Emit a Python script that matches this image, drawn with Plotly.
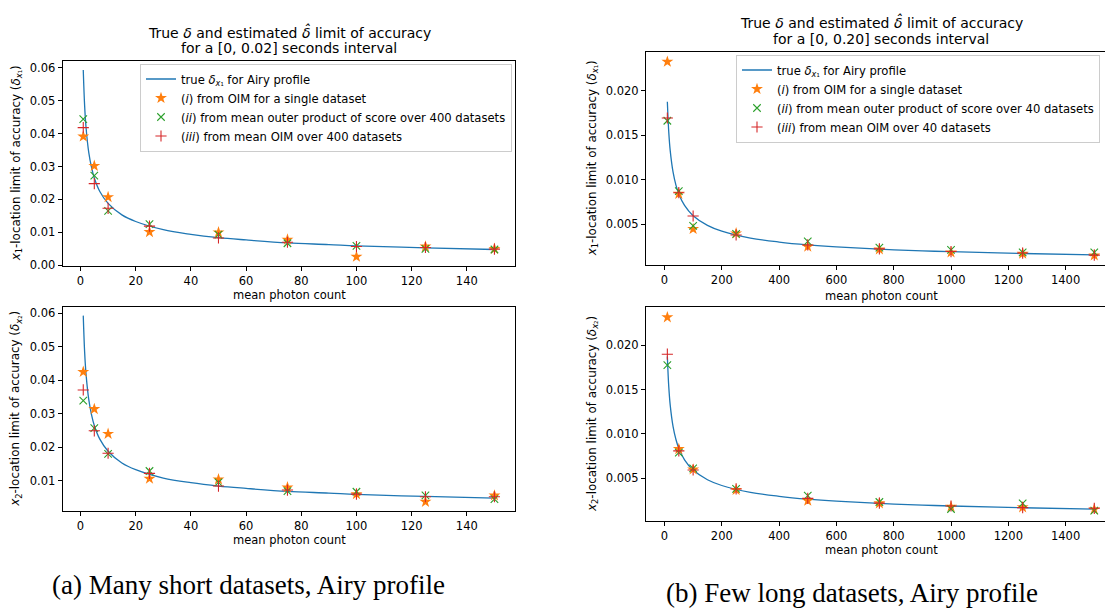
import plotly.graph_objects as go

W, H = 1105, 608

# ---------------- data ----------------
counts_a = [1, 5, 10, 25, 50, 75, 100, 125, 150]
true_a_x = [1, 1.5, 2, 3, 4, 5, 7, 10, 15, 20, 30, 40, 50, 60, 75, 90, 100, 125, 150]
true_a_y = [0.0593, 0.0484, 0.0419, 0.0342, 0.0297, 0.0265, 0.0224, 0.0188, 0.0153, 0.0133,
            0.0108, 0.0094, 0.0084, 0.0077, 0.0068, 0.0063, 0.0059, 0.0053, 0.0048]
a_x1_oim = [0.0391, 0.0302, 0.0207, 0.0101, 0.0100, 0.0078, 0.0026, 0.0057, 0.0050]
a_x1_score = [0.0444, 0.0272, 0.0165, 0.0125, 0.0093, 0.0067, 0.0059, 0.0050, 0.0048]
a_x1_mean = [0.0418, 0.0248, 0.0173, 0.0119, 0.0083, 0.0070, 0.0057, 0.0054, 0.0049]
a_x2_oim = [0.0425, 0.0314, 0.0240, 0.0106, 0.0104, 0.0080, 0.0060, 0.0037, 0.0056]
a_x2_score = [0.0339, 0.0257, 0.0180, 0.0129, 0.0095, 0.0069, 0.0067, 0.0056, 0.0045]
a_x2_mean = [0.0371, 0.0249, 0.0182, 0.0122, 0.0084, 0.0072, 0.0060, 0.0052, 0.0052]

counts_b = [10, 50, 100, 250, 500, 750, 1000, 1250, 1500]
true_b_x = [10, 15, 20, 30, 40, 50, 70, 100, 150, 200, 300, 400, 500, 600, 750, 900, 1000, 1250, 1500]
true_b_y = [0.01875, 0.01531, 0.01326, 0.01083, 0.00938, 0.00839, 0.00709, 0.00593, 0.00484, 0.00419,
            0.00342, 0.00297, 0.00265, 0.00242, 0.00217, 0.00198, 0.00188, 0.00168, 0.00153]
b_x1_oim = [0.02326, 0.0084, 0.00444, 0.00395, 0.00245, 0.00215, 0.00180, 0.00167, 0.00147]
b_x1_score = [0.01662, 0.00871, 0.0048, 0.0039, 0.00305, 0.00233, 0.0021, 0.0018, 0.0018]
b_x1_mean = [0.01693, 0.00852, 0.0059, 0.00376, 0.00264, 0.0022, 0.0019, 0.00173, 0.0015]
b_x2_oim = [0.02316, 0.0083, 0.0060, 0.0037, 0.00247, 0.00218, 0.0018, 0.00173, 0.0015]
b_x2_score = [0.01778, 0.0079, 0.00613, 0.0038, 0.00304, 0.00233, 0.00154, 0.00218, 0.00135]
b_x2_mean = [0.0190, 0.0081, 0.00594, 0.0038, 0.00274, 0.0022, 0.00188, 0.0017, 0.00162]

BLUE, ORANGE, GREEN, RED = "#1f77b4", "#ff7f0e", "#2ca02c", "#d62728"
FONT = "DejaVu Sans"
FS = 11.5


def px(x):
    return x / W


def py(y):
    return 1 - y / H


fig = go.Figure()


def add_panel(ax, xs, line_x, line_y, oim, score, mean, legend, labels):
    xa, ya = ("x", "y") if ax == 1 else ("x%d" % ax, "y%d" % ax)
    show = legend is not None
    lg = legend if legend else "legend"
    fig.add_trace(go.Scatter(x=line_x, y=line_y, mode="lines", line=dict(color=BLUE, width=1.3, shape="spline"),
                             name=labels[0], showlegend=show, legend=lg, xaxis=xa, yaxis=ya))
    fig.add_trace(go.Scatter(x=xs, y=oim, mode="markers", marker=dict(symbol="star", size=9, color=ORANGE, line=dict(width=0)),
                             name=labels[1], showlegend=show, legend=lg, xaxis=xa, yaxis=ya))
    fig.add_trace(go.Scatter(x=xs, y=score, mode="markers", marker=dict(symbol="x-thin-open", size=7.5, color=GREEN, line=dict(width=1.1, color=GREEN)),
                             name=labels[2], showlegend=show, legend=lg, xaxis=xa, yaxis=ya))
    fig.add_trace(go.Scatter(x=xs, y=mean, mode="markers", marker=dict(symbol="cross-thin-open", size=8, color=RED, line=dict(width=1.1, color=RED)),
                             name=labels[3], showlegend=show, legend=lg, xaxis=xa, yaxis=ya))


lab_true = "true <i>δ</i><sub><i>x</i>₁</sub> for Airy profile"
labels_a = [lab_true,
            "(<i>i</i>) from OIM for a single dataset",
            "(<i>ii</i>) from mean outer product of score over 400 datasets",
            "(<i>iii</i>) from mean OIM over 400 datasets"]
labels_b = [lab_true,
            "(<i>i</i>) from OIM for a single dataset",
            "(<i>ii</i>) from mean outer product of score over 40 datasets",
            "(<i>iii</i>) from mean OIM over 40 datasets"]

add_panel(1, counts_a, true_a_x, true_a_y, a_x1_oim, a_x1_score, a_x1_mean, "legend", labels_a)
add_panel(2, counts_a, true_a_x, true_a_y, a_x2_oim, a_x2_score, a_x2_mean, None, labels_a)
add_panel(3, counts_b, true_b_x, true_b_y, b_x1_oim, b_x1_score, b_x1_mean, "legend2", labels_b)
add_panel(4, counts_b, true_b_x, true_b_y, b_x2_oim, b_x2_score, b_x2_mean, None, labels_b)


def axis_common(**kw):
    d = dict(showgrid=False, zeroline=False, showline=True, linecolor="black", linewidth=1,
             ticks="outside", ticklen=4, tickwidth=1, tickcolor="black",
             tickfont=dict(family=FONT, size=FS, color="black"))
    d.update(kw)
    return d


# pixel boxes
L = (62.7, 515.0)
R = (646.0, 1105.0)
box_lt = (61.0, 265.7)
box_lb = (306.7, 511.0)
box_rt = (51.7, 265.0)
box_rb = (307.3, 520.7)

fig.update_layout(
    xaxis=axis_common(domain=[px(L[0]), px(L[1])], range=[-6.45, 157.45], dtick=20, tick0=0, mirror=True, anchor="y"),
    yaxis=axis_common(domain=[py(box_lt[1]), py(box_lt[0])], range=[-0.00012, 0.06203], dtick=0.01, tick0=0,
                      tickformat=".2f", mirror=True, anchor="x"),
    xaxis2=axis_common(domain=[px(L[0]), px(L[1])], range=[-6.45, 157.45], dtick=20, tick0=0, mirror=True, anchor="y2"),
    yaxis2=axis_common(domain=[py(box_lb[1]), py(box_lb[0])], range=[0.00095, 0.06197], dtick=0.01, tick0=0,
                       tickformat=".2f", mirror=True, anchor="x2"),
    xaxis3=axis_common(domain=[px(R[0]), px(R[1])], range=[-64.5, 1537.4], dtick=200, tick0=0, mirror=True, anchor="y3"),
    yaxis3=axis_common(domain=[py(box_rt[1]), py(box_rt[0])], range=[0.000386, 0.02439], dtick=0.005, tick0=0,
                       tickformat=".3f", mirror=False, anchor="x3"),
    xaxis4=axis_common(domain=[px(R[0]), px(R[1])], range=[-64.5, 1537.4], dtick=200, tick0=0, mirror=True, anchor="y4"),
    yaxis4=axis_common(domain=[py(box_rb[1]), py(box_rb[0])], range=[0.00022, 0.02429], dtick=0.005, tick0=0,
                       tickformat=".3f", mirror=False, anchor="x4"),
)

legend_style = dict(xanchor="left", yanchor="top", bgcolor="rgba(255,255,255,0.85)", bordercolor="#cccccc",
                    borderwidth=1, font=dict(family=FONT, size=11.6, color="black"), traceorder="normal")
fig.update_layout(
    legend=dict(x=px(140.0), y=py(63.5), **legend_style),
    legend2=dict(x=px(736.0), y=py(54.5), **legend_style),
)

ann = []


def text(x, y, s, size=FS, angle=0, family=FONT):
    ann.append(dict(x=px(x), y=py(y), xref="paper", yref="paper", text=s, showarrow=False,
                    xanchor="center", yanchor="middle", textangle=angle,
                    font=dict(family=family, size=size, color="black")))


# titles
TS = 14
text(289, 31.7, "True <i>δ</i> and estimated <i>δ̂</i> limit of accuracy", size=TS)
text(289, 48.3, "for a [0, 0.02] seconds interval", size=TS)
text(881, 21.7, "True <i>δ</i> and estimated <i>δ̂</i> limit of accuracy", size=TS)
text(881, 39.3, "for a [0, 0.20] seconds interval", size=TS)

# x labels
text(289, 295, "mean photon count")
text(289, 540, "mean photon count")
text(881, 295.5, "mean photon count")
text(881, 550, "mean photon count")

# y labels
ylab1 = "<i>x</i><sub>1</sub>-location limit of accuracy (<i>δ</i><sub><i>x</i>₁</sub>)"
ylab2 = "<i>x</i><sub>2</sub>-location limit of accuracy (<i>δ</i><sub><i>x</i>₂</sub>)"
YS = 11.9
text(16, (box_lt[0] + box_lt[1]) / 2, ylab1, size=YS, angle=-90)
text(16, (box_lb[0] + box_lb[1]) / 2, ylab2, size=YS, angle=-90)
text(592, (box_rt[0] + box_rt[1]) / 2, ylab1, size=YS, angle=-90)
text(592, (box_rb[0] + box_rb[1]) / 2, ylab2, size=YS, angle=-90)

# captions
text(248, 585, "(a) Many short datasets, Airy profile", size=27, family="Liberation Serif")
text(852, 593, "(b) Few long datasets, Airy profile", size=27, family="Liberation Serif")

fig.update_layout(
    annotations=ann,
    width=W, height=H,
    margin=dict(l=0, r=0, t=0, b=0, pad=0, autoexpand=False),
    paper_bgcolor="white", plot_bgcolor="white",
    font=dict(family=FONT, size=FS, color="black"),
)

fig.write_html("out.html")
